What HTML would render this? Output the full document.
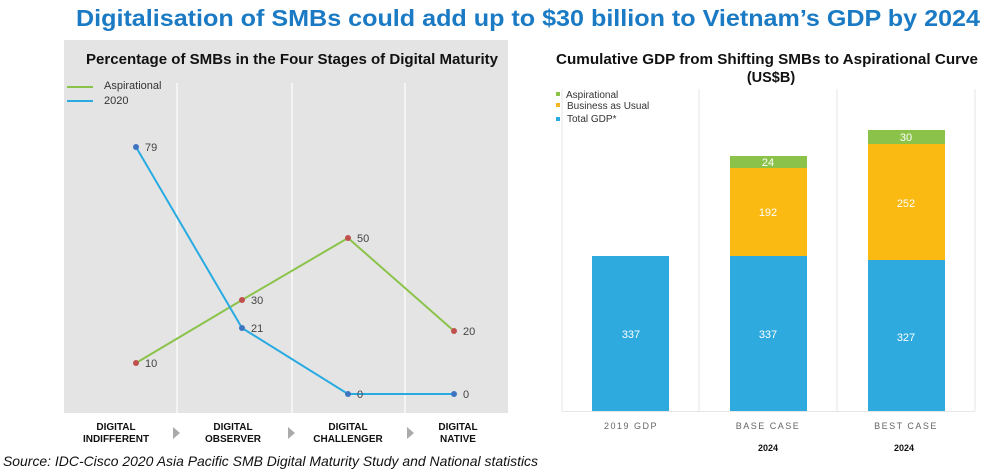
<!DOCTYPE html>
<html><head><meta charset="utf-8"><style>
body{margin:0;width:991px;height:470px;background:#fff;overflow:hidden;font-family:"Liberation Sans",Arial,sans-serif}
</style></head><body>
<svg width="991" height="470" viewBox="0 0 991 470" xmlns="http://www.w3.org/2000/svg" font-family="Liberation Sans, Arial, sans-serif">
<text x="76" y="26" textLength="904" lengthAdjust="spacingAndGlyphs" font-size="23" font-weight="bold" fill="#1a7ac4">Digitalisation of SMBs could add up to $30 billion to Vietnam’s GDP by 2024</text>
<!-- left chart -->
<rect x="64" y="40" width="444" height="373" fill="#e4e4e4"/>
<g stroke="#fafafa" stroke-width="1.5"><line x1="177" y1="83" x2="177" y2="413"/><line x1="292" y1="83" x2="292" y2="413"/><line x1="405" y1="83" x2="405" y2="413"/></g>
<text x="86" y="64" textLength="412" lengthAdjust="spacingAndGlyphs" font-size="15" font-weight="bold" fill="#111">Percentage of SMBs in the Four Stages of Digital Maturity</text>
<line x1="67" y1="87" x2="93" y2="87" stroke="#8bc34a" stroke-width="2"/>
<line x1="67" y1="101" x2="93" y2="101" stroke="#29abe2" stroke-width="2"/>
<text x="104" y="89" font-size="11" fill="#333">Aspirational</text>
<text x="104" y="104" font-size="11" fill="#333">2020</text>
<polyline points="136,363 242,300 348,238 454,331" fill="none" stroke="#8bc34a" stroke-width="2"/>
<polyline points="136,147 242,328 348,394 454,394" fill="none" stroke="#29abe2" stroke-width="2"/>
<g fill="#c0504d"><circle cx="136" cy="363" r="3"/><circle cx="242" cy="300" r="3"/><circle cx="348" cy="238" r="3"/><circle cx="454" cy="331" r="3"/></g>
<g fill="#3e75c0"><circle cx="136" cy="147" r="3"/><circle cx="242" cy="328" r="3"/><circle cx="348" cy="394" r="3"/><circle cx="454" cy="394" r="3"/></g>
<g font-size="11" fill="#444"><text x="145" y="151">79</text><text x="145" y="367">10</text><text x="251" y="304">30</text><text x="251" y="332">21</text><text x="357" y="242">50</text><text x="357" y="398">0</text><text x="463" y="335">20</text><text x="463" y="398">0</text></g>
<g font-size="10" font-weight="bold" fill="#111" text-anchor="middle">
<text x="116" y="430">DIGITAL</text><text x="116" y="442">INDIFFERENT</text>
<text x="233" y="430">DIGITAL</text><text x="233" y="442">OBSERVER</text>
<text x="348" y="430">DIGITAL</text><text x="348" y="442">CHALLENGER</text>
<text x="458" y="430">DIGITAL</text><text x="458" y="442">NATIVE</text></g>
<g fill="#aaa"><polygon points="173,427 180,433 173,439"/><polygon points="288,427 295,433 288,439"/><polygon points="407,427 414,433 407,439"/></g>
<!-- right chart -->
<text x="556" y="64" textLength="422" lengthAdjust="spacingAndGlyphs" font-size="14.5" font-weight="bold" fill="#111">Cumulative GDP from Shifting SMBs to Aspirational Curve</text>
<text x="771" y="82" text-anchor="middle" font-size="14.5" font-weight="bold" fill="#111">(US$B)</text>
<g stroke="#e6e6e6" stroke-width="1"><line x1="562" y1="89" x2="562" y2="411"/><line x1="699" y1="89" x2="699" y2="411"/><line x1="837" y1="89" x2="837" y2="411"/><line x1="975" y1="89" x2="975" y2="411"/><line x1="562" y1="411.5" x2="975" y2="411.5"/></g>
<rect x="556" y="92" width="4" height="4" fill="#8bc34a"/><rect x="556" y="103" width="4" height="4" fill="#f5b526"/><rect x="556" y="117" width="4" height="4" fill="#29abe2"/>
<g font-size="10" fill="#333"><text x="566" y="98">Aspirational</text><text x="567" y="109">Business as Usual</text><text x="567" y="122">Total GDP*</text></g>
<rect x="592" y="256" width="77" height="155" fill="#2eaadf"/>
<rect x="730" y="256" width="77" height="155" fill="#2eaadf"/>
<rect x="730" y="168" width="77" height="88" fill="#fbba12"/>
<rect x="730" y="156" width="77" height="12" fill="#8bc34a"/>
<rect x="868" y="260" width="77" height="151" fill="#2eaadf"/>
<rect x="868" y="144" width="77" height="116" fill="#fbba12"/>
<rect x="868" y="130" width="77" height="14" fill="#8bc34a"/>
<g font-size="11" fill="#fff" text-anchor="middle"><text x="631" y="338">337</text><text x="768" y="338">337</text><text x="906" y="341">327</text><text x="768" y="216">192</text><text x="906" y="207">252</text><text x="768" y="166">24</text><text x="906" y="141">30</text></g>
<g font-size="9" fill="#666" text-anchor="middle" letter-spacing="1.5"><text x="631" y="429">2019 GDP</text><text x="768" y="429">BASE CASE</text><text x="906" y="429">BEST CASE</text></g>
<g font-size="9" font-weight="bold" fill="#111" text-anchor="middle"><text x="768" y="451">2024</text><text x="904" y="451">2024</text></g>
<text x="3" y="466" textLength="535" lengthAdjust="spacingAndGlyphs" font-size="14" font-style="italic" fill="#111">Source: IDC-Cisco 2020 Asia Pacific SMB Digital Maturity Study and National statistics</text>
</svg>
</body></html>
